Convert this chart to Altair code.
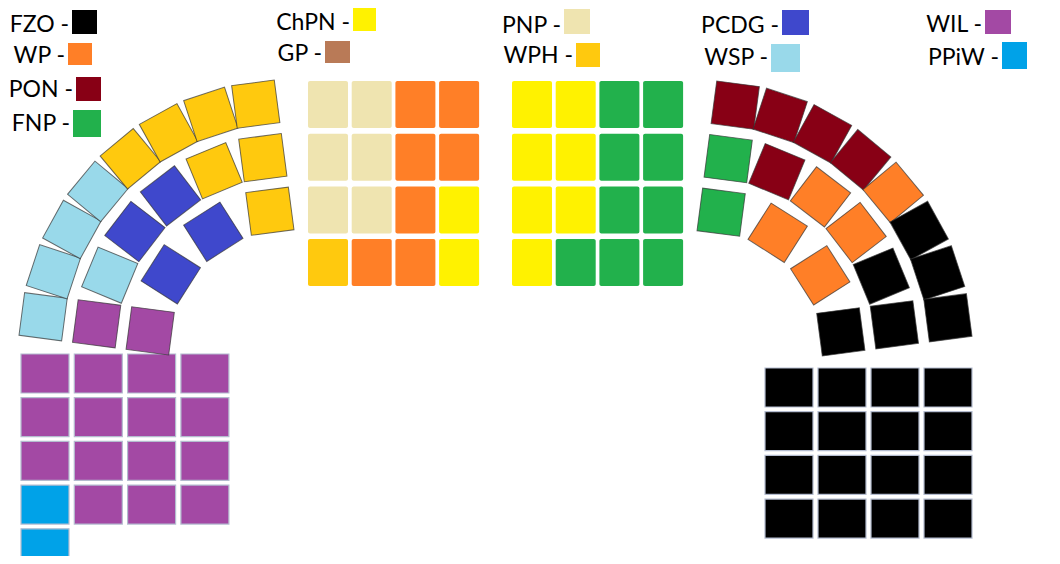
import math
import altair as alt
import pandas as pd

# ---------------- data ----------------
parties = ["FZO", "WP", "PON", "FNP", "ChPN", "GP", "PNP", "WPH", "PCDG", "WSP", "WIL", "PPiW"]
colors = ["#000000", "#FF7F27", "#880015", "#22B14C", "#FFF200", "#B97A57",
          "#EFE4B0", "#FFC90E", "#3F48CC", "#99D9EA", "#A349A4", "#00A2E8"]

# legend columns (party names)
legend_cols = [["FZO", "WP", "PON", "FNP"], ["ChPN", "GP"], ["PNP", "WPH"], ["PCDG", "WSP"], ["WIL", "PPiW"]]

# left arc rows (inner, middle, outer), listed from the left end to the top end
left_arc = [
    ["WIL", "PCDG", "PCDG", "WPH"],
    ["WIL", "WSP", "PCDG", "PCDG", "WPH", "WPH"],
    ["WSP", "WSP", "WSP", "WSP", "WPH", "WPH", "WPH", "WPH"],
]
# right arc rows (inner, middle, outer), listed from the top end to the right end
right_arc = [
    ["FNP", "WP", "WP", "FZO"],
    ["FNP", "PON", "WP", "WP", "FZO", "FZO"],
    ["PON", "PON", "PON", "PON", "WP", "FZO", "FZO", "FZO"],
]
center_left_grid = [
    ["PNP", "PNP", "WP", "WP"],
    ["PNP", "PNP", "WP", "WP"],
    ["PNP", "PNP", "WP", "ChPN"],
    ["WPH", "WP", "WP", "ChPN"],
]
center_right_grid = [
    ["ChPN", "ChPN", "FNP", "FNP"],
    ["ChPN", "ChPN", "FNP", "FNP"],
    ["ChPN", "ChPN", "FNP", "FNP"],
    ["ChPN", "FNP", "FNP", "FNP"],
]
left_grid = [
    ["WIL", "WIL", "WIL", "WIL"],
    ["WIL", "WIL", "WIL", "WIL"],
    ["WIL", "WIL", "WIL", "WIL"],
    ["PPiW", "WIL", "WIL", "WIL"],
    ["PPiW"],
]
right_grid = [
    ["FZO", "FZO", "FZO", "FZO"],
    ["FZO", "FZO", "FZO", "FZO"],
    ["FZO", "FZO", "FZO", "FZO"],
    ["FZO", "FZO", "FZO", "FZO"],
]

# ---------------- layout ----------------
legend_baselines = [[32, 63, 97, 131], [30, 61], [33, 63], [33, 65], [32, 65]]
legend_boxes = {  # x0, x1, y0, y1 of the key squares
    "FZO": (72, 97, 10, 34), "WP": (68, 92, 43, 65), "PON": (76, 101, 77, 101),
    "FNP": (73, 101, 110, 137), "ChPN": (353, 376, 8, 31), "GP": (325, 350, 41, 63),
    "PNP": (564, 590, 9, 34), "WPH": (576, 600, 43, 67), "PCDG": (782, 809, 10, 35),
    "WSP": (771, 800, 44, 72), "WIL": (985, 1011, 10, 34), "PPiW": (1002, 1027, 42, 69),
}
label_gap = 3

arc_radii = [139, 193, 247]
arc_specs = [
    (left_arc, (288, 349), 172.5, 97.5),
    (right_arc, (703, 350), 82.5, 7.5),
]
seat_side = 43

grid_specs = [  # grid, x0, y0, col pitch, row pitch, w, h, kind
    (center_left_grid, 308, 81, 43.7, 52.7, 40, 47, "center"),
    (center_right_grid, 512, 81, 43.7, 52.7, 40, 47, "center"),
    (left_grid, 21, 354, 53.3, 43.7, 48, 39, "bottom"),
    (right_grid, 765, 368, 53.0, 43.7, 48, 39, "bottom"),
]

# ---------------- build tables ----------------
seat_rows = []
for rows, (cx, cy), a0, a1 in arc_specs:
    for ri, row in enumerate(rows):
        n = len(row)
        r = arc_radii[ri]
        for k, p in enumerate(row):
            th = a0 + (a1 - a0) * k / (n - 1)
            t = math.radians(th)
            seat_rows.append({
                "party": p,
                "x": cx + r * math.cos(t),
                "y": cy - r * math.sin(t),
                "rot": (-th) % 90,
            })
seats = pd.DataFrame(seat_rows)

rect_rows = []
for grid, x0, y0, px, py, w, h, kind in grid_specs:
    for ri, row in enumerate(grid):
        for ci, p in enumerate(row):
            rect_rows.append({
                "party": p, "kind": kind,
                "x0": x0 + ci * px, "x1": x0 + ci * px + w,
                "y0": y0 + ri * py, "y1": y0 + ri * py + h,
            })
rects = pd.DataFrame(rect_rows)

leg_rows = []
for ci, col in enumerate(legend_cols):
    for ri, p in enumerate(col):
        bx0, bx1, by0, by1 = legend_boxes[p]
        leg_rows.append({
            "party": p, "label": p + " -",
            "tx": bx0 - label_gap, "ty": legend_baselines[ci][ri],
            "x0": bx0, "x1": bx1, "y0": by0, "y1": by1,
        })
legend = pd.DataFrame(leg_rows)

# ---------------- chart ----------------
W, H = 1044, 548
xs = alt.Scale(domain=[8, 8 + W], nice=False, zero=False)
ys = alt.Scale(domain=[8, 8 + H], nice=False, zero=False, reverse=True)
cs = alt.Scale(domain=parties, range=colors)

center_rects = alt.Chart(rects[rects.kind == "center"]).mark_rect(cornerRadius=2).encode(
    x=alt.X("x0:Q", scale=xs, axis=None), x2="x1:Q",
    y=alt.Y("y0:Q", scale=ys, axis=None), y2="y1:Q",
    fill=alt.Fill("party:N", scale=cs, legend=None),
)
bottom_rects = alt.Chart(rects[rects.kind == "bottom"]).mark_rect(
    stroke="#b4bccf", strokeWidth=1.2).encode(
    x=alt.X("x0:Q", scale=xs, axis=None), x2="x1:Q",
    y=alt.Y("y0:Q", scale=ys, axis=None), y2="y1:Q",
    fill=alt.Fill("party:N", scale=cs, legend=None),
)
arc_seats = alt.Chart(seats).mark_point(
    shape="square", filled=True, opacity=1, size=seat_side ** 2,
    stroke="#333333", strokeWidth=1, strokeOpacity=0.7,
).encode(
    x=alt.X("x:Q", scale=xs, axis=None),
    y=alt.Y("y:Q", scale=ys, axis=None),
    angle=alt.Angle("rot:Q", scale=None),
    fill=alt.Fill("party:N", scale=cs, legend=None),
)
legend_text = alt.Chart(legend).mark_text(
    align="right", baseline="alphabetic", fontSize=23, font="Lato", color="#000000",
).encode(
    x=alt.X("tx:Q", scale=xs, axis=None),
    y=alt.Y("ty:Q", scale=ys, axis=None),
    text="label:N",
)
legend_keys = alt.Chart(legend).mark_rect().encode(
    x=alt.X("x0:Q", scale=xs, axis=None), x2="x1:Q",
    y=alt.Y("y0:Q", scale=ys, axis=None), y2="y1:Q",
    fill=alt.Fill("party:N", scale=cs, legend=None),
)

chart = alt.layer(center_rects, bottom_rects, arc_seats, legend_text, legend_keys).properties(
    width=W, height=H, padding=0, autosize=alt.AutoSizeParams(type="none"),
    background="#ffffff",
).configure_view(stroke=None)

chart.save("out.html", embed_options={"renderer": "svg", "actions": False})
